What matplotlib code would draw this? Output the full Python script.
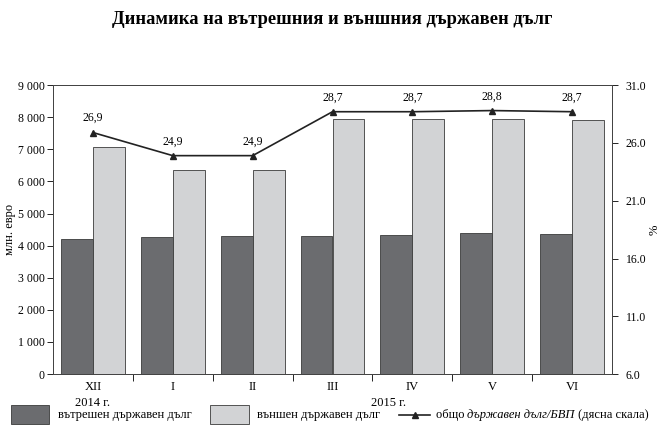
import matplotlib.pyplot as plt
from matplotlib.patches import Rectangle
from matplotlib.lines import Line2D
from matplotlib.ticker import FuncFormatter

plt.rcParams['font.family'] = ['Liberation Serif', 'DejaVu Serif']

# Data
months = ['XII', 'I', 'II', 'III', 'IV', 'V', 'VI']
domestic_debt = [4200, 4270, 4300, 4310, 4330, 4380, 4360]
external_debt = [7070, 6350, 6350, 7940, 7930, 7930, 7900]
debt_to_gdp = [26.9, 24.9, 24.9, 28.7, 28.7, 28.8, 28.7]
debt_labels = ['26,9', '24,9', '24,9', '28,7', '28,7', '28,8', '28,7']

dark = '#6b6c6f'
light = '#d2d3d5'
edge = '#3a3a3a'

fig = plt.figure(figsize=(6.65, 4.3), dpi=100)
ax = fig.add_axes([0.0797, 0.130, 0.8406, 0.672])
ax2 = ax.twinx()

x = list(range(len(months)))
w = 0.4
ax.bar([i - w / 2 for i in x], domestic_debt, width=w, color=dark, edgecolor=edge, linewidth=0.6, zorder=2)
ax.bar([i + w / 2 for i in x], external_debt, width=w, color=light, edgecolor=edge, linewidth=0.6, zorder=2)

ax.set_xlim(-0.5, len(months) - 0.5)
ax.set_ylim(0, 9000)
ax.set_yticks(range(0, 9001, 1000))
ax.yaxis.set_major_formatter(FuncFormatter(lambda v, p: f'{int(v):,}'.replace(',', ' ')))
ax.set_ylabel('млн. евро', fontsize=9)
ax.yaxis.set_label_coords(-0.067, 0.5)

# category boundaries as ticks, labels in the middle
ax.set_xticks([i + 0.5 for i in x[:-1]])
ax.set_xticklabels([])
ax.set_xticks(x, minor=True)
ax.set_xticklabels(months, minor=True)
ax.tick_params(axis='x', which='major', length=5, direction='out', width=0.6)
ax.tick_params(axis='x', which='minor', length=0, pad=5, labelsize=9)
ax.tick_params(axis='y', length=4, width=0.6, labelsize=8.5, pad=2)

ax.text(0, -0.08, '2014 г.', transform=ax.get_xaxis_transform(), ha='center', va='top', fontsize=9)
ax.text(3.7, -0.08, '2015 г.', transform=ax.get_xaxis_transform(), ha='center', va='top', fontsize=9)

ax2.plot(x, debt_to_gdp, color='#222222', linewidth=1.2, marker='^', markersize=4, zorder=3)
for i, (v, lab) in enumerate(zip(debt_to_gdp, debt_labels)):
    ax2.annotate(lab, (i, v), xytext=(0, 6), textcoords='offset points', ha='center', va='bottom', fontsize=8.5)
ax2.set_ylim(6, 31)
ax2.set_yticks([6, 11, 16, 21, 26, 31])
ax2.yaxis.set_major_formatter(FuncFormatter(lambda v, p: f'{v:.1f}'))
ax2.tick_params(axis='y', length=4, width=0.6, labelsize=8.5, pad=6)
ax2.set_ylabel('%', fontsize=9)
ax2.yaxis.set_label_coords(1.066, 0.5)

for a in (ax, ax2):
    for s in a.spines.values():
        s.set_linewidth(0.7)
        s.set_color('#444444')

fig.text(0.5, 0.955, 'Динамика на вътрешния и външния държавен дълг', ha='center', va='center',
         fontsize=13.3, fontweight='bold')

# hand-built legend along the bottom
fig.patches.append(Rectangle((0.016, 0.015), 0.058, 0.043, transform=fig.transFigure,
                             facecolor=dark, edgecolor=edge, linewidth=0.6))
fig.text(0.087, 0.036, 'вътрешен държавен дълг', va='center', fontsize=9)
fig.patches.append(Rectangle((0.316, 0.015), 0.058, 0.043, transform=fig.transFigure,
                             facecolor=light, edgecolor=edge, linewidth=0.6))
fig.text(0.387, 0.036, 'външен държавен дълг', va='center', fontsize=9)
fig.lines.append(Line2D([0.600, 0.647], [0.036, 0.036], transform=fig.transFigure,
                        color='#222222', linewidth=1.2))
fig.lines.append(Line2D([0.6235], [0.036], transform=fig.transFigure,
                        color='#222222', marker='^', markersize=4))
t1 = fig.text(0.655, 0.036, 'общо ', va='center', fontsize=9)
t2 = ax.annotate('държавен дълг/БВП', xy=(1, 0), xycoords=t1, va='bottom', fontsize=9, style='italic',
                 annotation_clip=False)
t3 = ax.annotate(' (дясна скала)', xy=(1, 0), xycoords=t2, va='bottom', fontsize=9, annotation_clip=False)

fig.savefig('out.png', dpi=100)
